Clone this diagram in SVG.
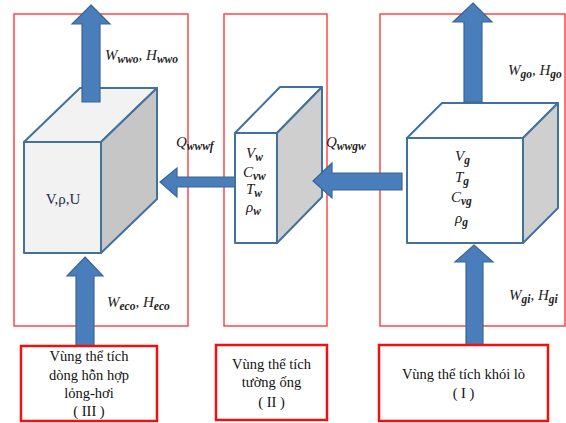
<svg xmlns="http://www.w3.org/2000/svg" width="566" height="423" viewBox="0 0 566 423">
<style>
.zone{fill:none;stroke:#ff3333;stroke-width:1.5;stroke-opacity:0.9}
.lbl{fill:#fff;stroke:#ee1111;stroke-width:2.5}
.face{stroke:#41719c;stroke-width:2;stroke-linejoin:round}
.arr{fill:#4a7ebb;stroke:#3a6595;stroke-width:1.2;stroke-linejoin:miter}
.m{font-family:"Liberation Serif",serif;font-style:italic;font-size:15px;fill:#222}
.s{font-size:11.5px;font-weight:bold}
.t{font-family:"Liberation Serif",serif;font-size:14.5px;fill:#111;text-anchor:middle}
</style>
<rect width="566" height="423" fill="#fff"/>
<g id="zones">
<rect class="zone" x="14" y="14" width="174" height="312"/>
<rect class="zone" x="224" y="14" width="103" height="312"/>
<rect class="zone" x="380" y="14" width="185" height="312"/>
</g>
<g id="connectors">
<polygon class="arr" points="160,182 177,168 177,177 236,177 236,187 177,187 177,197"/>
</g>
<g id="cube-III">
<polygon class="face" fill="#f2f2f2" points="24,142 80,88 157,88 101,142"/>
<polygon class="face" fill="#c6c6c6" points="101,142 157,88 157,199 101,253"/>
<rect class="face" fill="#f2f2f2" x="24" y="142" width="77" height="111"/>
<text x="63" y="204" style="font-family:'Liberation Serif',serif;font-size:15px;fill:#1f2a55;text-anchor:middle">V,ρ,U</text>
</g>
<g id="cube-II">
<polygon class="face" fill="#fff" points="235,133 280,87 322,87 277,133"/>
<polygon class="face" fill="#cfcfcf" points="277,133 322,87 322,197 277,243"/>
<rect class="face" fill="#fff" x="235" y="133" width="42" height="110"/>
<text class="m" x="246" y="158">V<tspan class="s" dy="3">w</tspan></text>
<text class="m" x="243" y="177">C<tspan class="s" dy="3">vw</tspan></text>
<text class="m" x="246" y="194">T<tspan class="s" dy="3">w</tspan></text>
<text class="m" x="246" y="212">ρ<tspan class="s" dy="3">w</tspan></text>
</g>
<g id="cube-I">
<polygon class="face" fill="#fff" points="407,138 442,103 558,103 523,138"/>
<polygon class="face" fill="#cfcfcf" points="523,138 558,103 558,208 523,243"/>
<rect class="face" fill="#fff" x="407" y="138" width="116" height="105"/>
<text class="m" x="455" y="161">V<tspan class="s" dy="3">g</tspan></text>
<text class="m" x="455" y="182">T<tspan class="s" dy="3">g</tspan></text>
<text class="m" x="451" y="202">C<tspan class="s" dy="3">vg</tspan></text>
<text class="m" x="455" y="223">ρ<tspan class="s" dy="3">g</tspan></text>
</g>
<g id="connectors2">
<polygon class="arr" points="91,5 110,24 100,24 100,102 82,102 82,24 72,24"/>
<polygon class="arr" points="85,257 103,276 94,276 94,346 76,346 76,276 67,276"/>
<polygon class="arr" points="313,181 332,163 332,173 402,173 402,190 332,190 332,198"/>
<polygon class="arr" points="473,3 492,22 482,22 482,102 464,102 464,22 453,22"/>
<polygon class="arr" points="474,245 493,262 483,262 483,345 466,345 466,262 455,262"/>
</g>
<g id="flow-labels">
<text class="m" x="105" y="60">W<tspan class="s" dy="3">wwo</tspan><tspan dy="-3">, H</tspan><tspan class="s" dy="3">wwo</tspan></text>
<text class="m" x="176" y="147">Q<tspan class="s" dy="3">wwwf</tspan></text>
<text class="m" x="326" y="147">Q<tspan class="s" dy="3">wwgw</tspan></text>
<text class="m" x="508" y="75">W<tspan class="s" dy="3">go</tspan><tspan dy="-3">, H</tspan><tspan class="s" dy="3">go</tspan></text>
<text class="m" x="107" y="307">W<tspan class="s" dy="3">eco</tspan><tspan dy="-3">, H</tspan><tspan class="s" dy="3">eco</tspan></text>
<text class="m" x="509" y="300">W<tspan class="s" dy="3">gi</tspan><tspan dy="-3">, H</tspan><tspan class="s" dy="3">gi</tspan></text>
</g>
<g id="box-III">
<rect class="lbl" x="21" y="346" width="136" height="75"/>
<text class="t" x="89" y="361">Vùng thể tích</text>
<text class="t" x="89" y="380">dòng hỗn hợp</text>
<text class="t" x="89" y="398">lỏng-hơi</text>
<text class="t" x="89" y="416">( III )</text>
</g>
<g id="box-II">
<rect class="lbl" x="216" y="345" width="111" height="75"/>
<text class="t" x="271.5" y="369">Vùng thể tích</text>
<text class="t" x="271.5" y="387">tường ống</text>
<text class="t" x="271.5" y="407">( II )</text>
</g>
<g id="box-I">
<rect class="lbl" x="379" y="345" width="169" height="76"/>
<text class="t" x="463.5" y="379">Vùng thể tích khói lò</text>
<text class="t" x="463.5" y="398">( I )</text>
</g>
</svg>
